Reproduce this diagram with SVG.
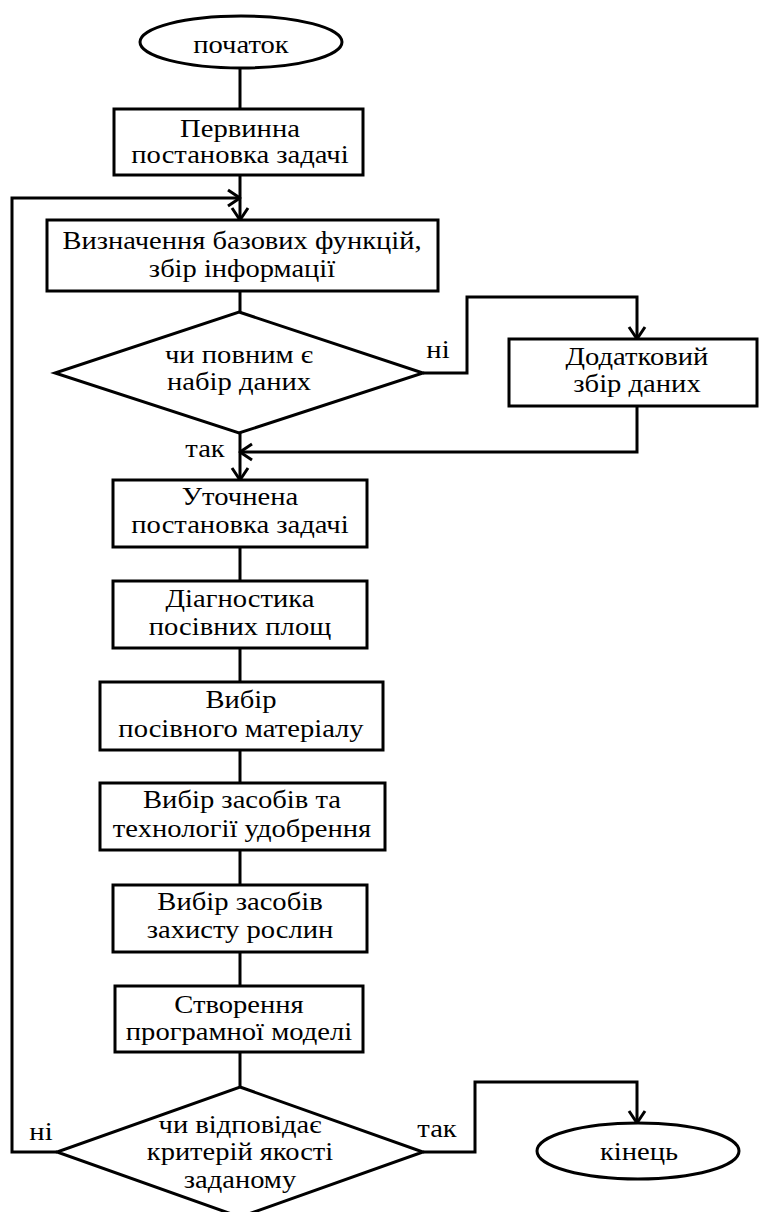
<svg xmlns="http://www.w3.org/2000/svg" width="759" height="1212" viewBox="0 0 759 1212">
<style>
.s{fill:#fff;stroke:#000;stroke-width:3}
.c{fill:none;stroke:#000;stroke-width:3;stroke-linejoin:miter}
.t{font-family:"Liberation Serif","Times New Roman",serif;font-size:26px;fill:#000;text-anchor:middle}
.n{font-size:25px}
</style>
<defs>
<marker id="arr" markerWidth="16" markerHeight="20" refX="13" refY="9" orient="auto" markerUnits="userSpaceOnUse" viewBox="0 0 16 18">
<path d="M1,1 L13,9 L1,17" fill="none" stroke="#000" stroke-width="3" stroke-linejoin="round"/>
</marker>
</defs>
<rect width="759" height="1212" fill="#fff"/>
<g id="connectors">
<path class="c" d="M240,68 V109"/>
<path class="c" d="M240,175 V220" marker-end="url(#arr)"/>
<path class="c" d="M57,1152 H12 V198 H240" marker-end="url(#arr)"/>
<path class="c" d="M240,291 V312"/>
<path class="c" d="M423,373 H467 V297 H637 V339" marker-end="url(#arr)"/>
<path class="c" d="M637,406 V452 H240" marker-end="url(#arr)"/>
<path class="c" d="M240,433 V480" marker-end="url(#arr)"/>
<path class="c" d="M240,547 V581"/>
<path class="c" d="M240,648 V682"/>
<path class="c" d="M240,750 V783"/>
<path class="c" d="M240,850 V885"/>
<path class="c" d="M240,952 V986"/>
<path class="c" d="M240,1052 V1087"/>
<path class="c" d="M423,1152 H475 V1082 H637 V1123" marker-end="url(#arr)"/>
</g>
<g id="start">
<ellipse class="s" cx="241" cy="42" rx="101" ry="26"/>
<g transform="translate(241,0) scale(1.1,1)"><text class="t" x="0" y="53">початок</text></g>
</g>
<g id="initial-task">
<rect class="s" x="114" y="109" width="249" height="66"/>
<g transform="translate(240,0) scale(1.1,1)"><text class="t" x="0" y="137">Первинна</text><text class="t" x="0" y="163">постановка задачі</text></g>
</g>
<g id="define-functions">
<rect class="s" x="47" y="220" width="391" height="71"/>
<g transform="translate(242,0) scale(1.14,1)"><text class="t n" x="0" y="249">Визначення базових функцій,</text><text class="t n" x="0" y="277">збір інформації</text></g>
</g>
<g id="data-complete">
<polygon class="s" points="239,312 423,373 239,433 55,373"/>
<g transform="translate(239,0) scale(1.1,1)"><text class="t" x="0" y="363">чи повним є</text><text class="t" x="0" y="390">набір даних</text></g>
<g transform="translate(438,0) scale(1.1,1)"><text class="t" x="0" y="358">ні</text></g>
<g transform="translate(205,0) scale(1.1,1)"><text class="t" x="0" y="457">так</text></g>
</g>
<g id="extra-data">
<rect class="s" x="509" y="339" width="248" height="67"/>
<g transform="translate(637,0) scale(1.1,1)"><text class="t" x="0" y="365">Додатковий</text><text class="t" x="0" y="392">збір даних</text></g>
</g>
<g id="refined-task">
<rect class="s" x="113" y="480" width="254" height="67"/>
<g transform="translate(240,0) scale(1.1,1)"><text class="t" x="0" y="505">Уточнена</text><text class="t" x="0" y="533">постановка задачі</text></g>
</g>
<g id="diagnostics">
<rect class="s" x="113" y="581" width="254" height="67"/>
<g transform="translate(240,0) scale(1.1,1)"><text class="t" x="0" y="607">Діагностика</text><text class="t" x="0" y="635">посівних площ</text></g>
</g>
<g id="seed-choice">
<rect class="s" x="100" y="682" width="283" height="68"/>
<g transform="translate(241,0) scale(1.1,1)"><text class="t" x="0" y="708">Вибір</text><text class="t" x="0" y="737">посівного матеріалу</text></g>
</g>
<g id="fertilizer-choice">
<rect class="s" x="100" y="783" width="285" height="67"/>
<g transform="translate(242,0) scale(1.1,1)"><text class="t" x="0" y="808">Вибір засобів та</text><text class="t" x="0" y="837">технології удобрення</text></g>
</g>
<g id="protection-choice">
<rect class="s" x="113" y="885" width="254" height="67"/>
<g transform="translate(240,0) scale(1.1,1)"><text class="t" x="0" y="910">Вибір засобів</text><text class="t" x="0" y="938">захисту рослин</text></g>
</g>
<g id="model-creation">
<rect class="s" x="115" y="986" width="248" height="66"/>
<g transform="translate(239,0) scale(1.1,1)"><text class="t" x="0" y="1013">Створення</text><text class="t" x="0" y="1040">програмної моделі</text></g>
</g>
<g id="quality-check">
<polygon class="s" points="240,1087 423,1152 240,1217 57,1152"/>
<g transform="translate(240,0) scale(1.14,1)"><text class="t n" x="0" y="1133">чи відповідає</text><text class="t n" x="0" y="1160">критерій якості</text><text class="t n" x="0" y="1188">заданому</text></g>
<g transform="translate(41,0) scale(1.1,1)"><text class="t" x="0" y="1140">ні</text></g>
<g transform="translate(437,0) scale(1.1,1)"><text class="t" x="0" y="1137">так</text></g>
</g>
<g id="end">
<ellipse class="s" cx="638" cy="1151" rx="101" ry="28"/>
<g transform="translate(639,0) scale(1.1,1)"><text class="t" x="0" y="1160">кінець</text></g>
</g>
</svg>
